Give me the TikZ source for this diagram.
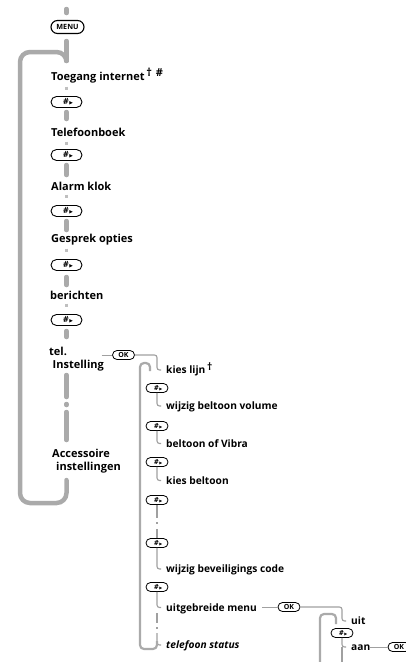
\documentclass[tikz,border=0pt]{standalone}
\usepackage{fontspec}
\setmainfont{Open Sans}
\newfontfamily\symf{DejaVu Sans}
\definecolor{lgray}{RGB}{170,170,170}
\definecolor{tgray}{RGB}{160,160,160}
\newcommand{\hashsym}{\hspace*{0.35em}\textit{\#}\kern0.08em{\symf\scalebox{0.55}{▶}}}
\begin{document}
\begin{tikzpicture}[x=1pt,y=-1pt,
  thk/.style={draw=lgray, line width=4.5pt, line cap=round},
  tickm/.style={draw=lgray!75, line width=3.5pt},
  bigloop/.style={draw=lgray, line width=4.5pt, line cap=round, rounded corners=10pt},
  thn/.style={draw=tgray, line width=1.1pt, rounded corners=2.5pt},
  subloop/.style={draw=lgray, line width=2.2pt, rounded corners=4pt},
  conn/.style={draw=tgray, line width=0.9pt},
  mainlbl/.style={anchor=west, inner sep=0pt, text height=7.9pt, text depth=0pt, font=\bfseries\fontsize{11}{13}\selectfont},
  sublbl/.style={anchor=west, inner sep=0pt, text height=7.3pt, text depth=0pt, font=\bfseries\fontsize{10.2}{12}\selectfont},
  menubtn/.style={draw, line width=1.1pt, rounded corners=6.5pt, minimum width=33pt, minimum height=13pt, inner sep=0pt, font=\bfseries\fontsize{7.2}{7.2}\selectfont},
  bigbtn/.style={draw, line width=0.9pt, rounded corners=5.5pt, minimum width=31pt, minimum height=11pt, inner sep=0pt, font=\bfseries\fontsize{8.5}{8.5}\selectfont},
  smallbtn/.style={draw, line width=0.8pt, rounded corners=4.5pt, minimum width=22pt, minimum height=9pt, inner sep=0pt, font=\bfseries\fontsize{7}{7}\selectfont},
  okbtn/.style={draw, line width=0.8pt, rounded corners=4.5pt, minimum width=22pt, minimum height=9pt, inner sep=0pt, font=\bfseries\fontsize{7}{7}\selectfont},
]
\useasboundingbox (0,0) rectangle (406,662);
\clip (0,0) rectangle (406,662);

% ---------- main column ----------
\coordinate (s0a) at (66.5,9);   \coordinate (s0b) at (66.5,13);
\coordinate (s1a) at (66.5,41);  \coordinate (s1b) at (66.5,61);
\coordinate (s2a) at (66.5,112); \coordinate (s2b) at (66.5,119);
\coordinate (s3a) at (66.5,165); \coordinate (s3b) at (66.5,175);
\coordinate (s4a) at (66.5,221); \coordinate (s4b) at (66.5,230);
\coordinate (s5a) at (66.5,277); \coordinate (s5b) at (66.5,285);
\coordinate (s6a) at (66.5,331); \coordinate (s6b) at (66.5,337);
\coordinate (s7a) at (66.5,375); \coordinate (s7b) at (66.5,397);
\coordinate (s8a) at (66.5,404); \coordinate (s8b) at (66.5,405);
\coordinate (s9a) at (66.5,412); \coordinate (s9b) at (66.5,440);

\node[menubtn] (menu) at (67.5,27) {MENU};
\node[bigbtn] (h1) at (66.5,102) {\hashsym};
\node[bigbtn] (h2) at (66.5,155) {\hashsym};
\node[bigbtn] (h3) at (66.5,211) {\hashsym};
\node[bigbtn] (h4) at (66.5,265) {\hashsym};
\node[bigbtn] (h5) at (66.5,320) {\hashsym};

\node[mainlbl] (toeg) at (51,76.5) {Toegang internet\raisebox{3.5pt}{\,†\,\,\#}};
\node[mainlbl] (tele) at (51,133) {Telefoonboek};
\node[mainlbl] (alarm) at (51,187) {Alarm klok};
\node[mainlbl] (gespr) at (51,239) {Gesprek opties};
\node[mainlbl] (beri) at (50,295.5) {berichten};
\node[mainlbl] (tel) at (49,351.5) {tel.};
\node[mainlbl] (inst) at (52.5,364.5) {Instelling};
\node[mainlbl] (acc) at (52,453.5) {Accessoire};
\node[mainlbl] (acc2) at (56,466.5) {instellingen};

\foreach \a/\b in {s0a/s0b,s1a/s1b,s2a/s2b,s3a/s3b,s4a/s4b,s5a/s5b,s6a/s6b,s7a/s7b,s8a/s8b,s9a/s9b}
  \draw[thk] (\a) -- (\b);

\foreach \y [count=\i] in {88,143,196,250,305} {
  \coordinate (t\i a) at (66.5,\y-1.5); \coordinate (t\i b) at (66.5,\y+1.5);
  \draw[tickm] (t\i a) -- (t\i b);
}

% big loop
\coordinate (L1) at (66.5,480); \coordinate (L2) at (66.5,503);
\coordinate (L3) at (20,503);   \coordinate (L4) at (20,52);
\coordinate (L5) at (66.5,52);  \coordinate (L6) at (66.5,60);
\draw[bigloop] (L1) -- (L2) -- (L3) -- (L4) -- (L5) -- (L6);

% ---------- second column ----------
\coordinate (c1) at (101.5,355);
\node[okbtn] (ok1) at (123.5,355) {OK};
\draw[conn] (c1) -- (ok1.west);
\coordinate (k1) at (157,355); \coordinate (k2) at (157,370); \coordinate (k3) at (161,370);
\draw[thn] (ok1.east) -- (k1) -- (k2) -- (k3);

\node[sublbl] (kies) at (166,370) {kies lijn\raisebox{3.5pt}{\,†}};
\node[smallbtn] (b1) at (157,388) {\hashsym};
\node[sublbl] (vol) at (166,406) {wijzig beltoon volume};
\node[smallbtn] (b2) at (157,426) {\hashsym};
\node[sublbl] (vib) at (166,443.5) {beltoon of Vibra};
\node[smallbtn] (b3) at (157,462) {\hashsym};
\node[sublbl] (kbt) at (166,480.5) {kies beltoon};
\node[smallbtn] (b4) at (157,500) {\hashsym};
\node[smallbtn] (b5) at (157,543) {\hashsym};
\node[sublbl] (bev) at (166,569) {wijzig beveiligings code};
\node[smallbtn] (b6) at (157,587) {\hashsym};
\node[sublbl] (uitg) at (166,607.5) {uitgebreide menu};
\node[sublbl] (stat) at (166,645) {\itshape telefoon status};

\foreach \b/\y in {b1/406,b2/443.5,b3/480.5,b5/569,b6/607.5} {
  \coordinate (\b m) at (157,\y); \coordinate (\b e) at (161,\y);
  \draw[thn] (\b.south) -- (\b m) -- (\b e);
}
\coordinate (d1) at (157,518); \coordinate (d2) at (157,522); \coordinate (d3) at (157,524);
\coordinate (d4) at (157,529);
\draw[thn] (b4.south) -- (d1);
\draw[thn] (d2) -- (d3);
\draw[thn] (d4) -- (b5.north);
\coordinate (e1) at (157,613); \coordinate (e2) at (157,623); \coordinate (e3) at (157,627);
\coordinate (e4) at (157,629); \coordinate (e5) at (157,633); \coordinate (e6) at (157,645);
\coordinate (e7) at (161,645);
\draw[thn] (e1) -- (e2);
\draw[thn] (e3) -- (e4);
\draw[thn] (e5) -- (e6) -- (e7);

\coordinate (m1) at (150,371); \coordinate (m2) at (150,363); \coordinate (m3) at (140,363);
\coordinate (m4) at (140,649); \coordinate (m5) at (157,649); \coordinate (m6) at (157,641);
\draw[subloop] (m1) -- (m2) -- (m3) -- (m4) -- (m5) -- (m6);

% ---------- third column ----------
\coordinate (c2) at (262,607);
\node[okbtn] (ok2) at (289,607) {OK};
\draw[conn] (c2) -- (ok2.west);
\coordinate (n1) at (342,607); \coordinate (n2) at (342,621); \coordinate (n3) at (346,621);
\draw[thn] (ok2.east) -- (n1) -- (n2) -- (n3);
\node[sublbl] (uit) at (351,621) {uit};
\coordinate (p1) at (336,624); \coordinate (p2) at (336,614); \coordinate (p3) at (320,614);
\coordinate (p4) at (320,670);
\draw[subloop] (p1) -- (p2) -- (p3) -- (p4);
\node[smallbtn] (b7) at (342,633) {\hashsym};
\coordinate (q1) at (342,647); \coordinate (q2) at (346,647); \coordinate (q3) at (342,670);
\draw[thn] (b7.south) -- (q1) -- (q2);
\draw[thn] (q1) -- (q3);
\node[sublbl] (aan) at (351,647) {aan};
\coordinate (c3) at (370,647);
\node[okbtn] (ok3) at (399,647) {OK};
\draw[conn] (c3) -- (ok3.west);
\end{tikzpicture}
\end{document}
